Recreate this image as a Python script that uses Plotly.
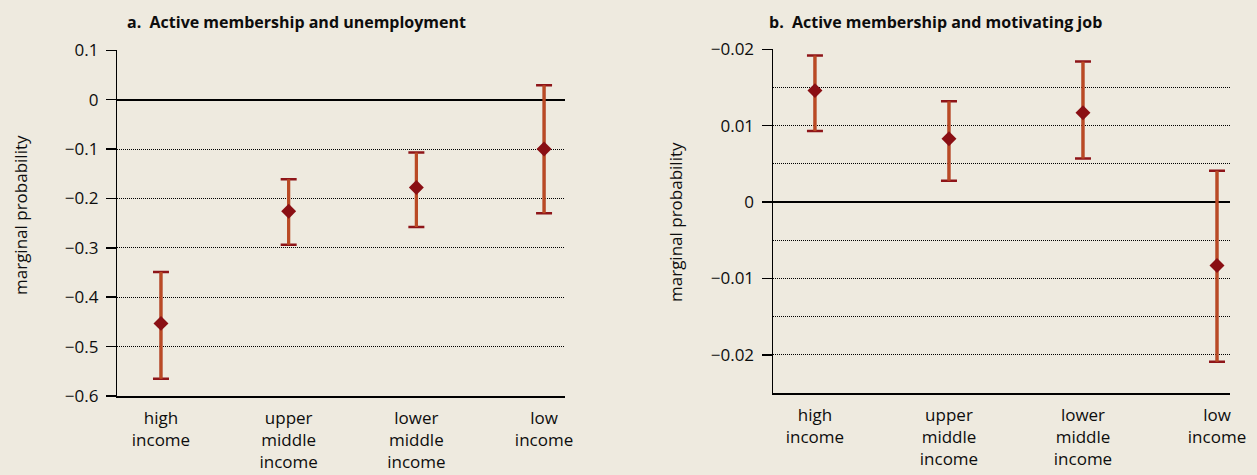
import plotly.graph_objects as go

# ---- data ----
categories = ["high income", "upper middle income", "lower middle income", "low income"]
tick_labels = ["high<br>income", "upper<br>middle<br>income", "lower<br>middle<br>income", "low<br>income"]

unemp_est = [-0.453, -0.226, -0.178, -0.100]
unemp_lo = [-0.565, -0.294, -0.258, -0.230]
unemp_hi = [-0.349, -0.161, -0.107, 0.029]

job_est = [0.0146, 0.0083, 0.0117, -0.0083]
job_lo = [0.0093, 0.0028, 0.0057, -0.0209]
job_hi = [0.0192, 0.0132, 0.0184, 0.0041]

a_tickvals = [0.1, 0, -0.1, -0.2, -0.3, -0.4, -0.5, -0.6]
a_ticktext = ["0.1", "0", "\u22120.1", "\u22120.2", "\u22120.3", "\u22120.4", "\u22120.5", "\u22120.6"]
b_tickvals = [0.02, 0.01, 0, -0.01, -0.02]
b_ticktext = ["\u22120.02", "0.01", "0", "\u22120.01", "\u22120.02"]
b_minor_grid = [0.015, 0.005, -0.005, -0.015]

titles = ["a.  Active membership and unemployment", "b.  Active membership and motivating job"]
ytitle = "marginal probability"

# ---- style ----
BG = "#EEEADF"
STEM = "#BA4A24"
CAP = "#8E1519"
DOT = "#8A0F14"
FONT = "Open Sans"
TXT = "#0d0d0d"
GRID = "#000000"
W, H = 1257, 475

fig = go.Figure()


def add_panel(est, lo, hi, xa, ya):
    plus = [h - e for h, e in zip(hi, est)]
    minus = [e - l for e, l in zip(est, lo)]
    # caps (dark red)
    fig.add_trace(go.Scatter(
        x=categories, y=est, mode="markers", marker=dict(size=1, opacity=0),
        error_y=dict(type="data", symmetric=False, array=plus, arrayminus=minus,
                     color=CAP, thickness=2.5, width=8),
        xaxis=xa, yaxis=ya, showlegend=False, hoverinfo="skip"))
    # stems (orange-brown)
    fig.add_trace(go.Scatter(
        x=categories, y=est, mode="markers", marker=dict(size=1, opacity=0),
        error_y=dict(type="data", symmetric=False, array=plus, arrayminus=minus,
                     color=STEM, thickness=3.2, width=0),
        xaxis=xa, yaxis=ya, showlegend=False, hoverinfo="skip"))
    # diamonds
    fig.add_trace(go.Scatter(
        x=categories, y=est, mode="markers",
        marker=dict(symbol="diamond", size=11.5, color=DOT, line=dict(width=0)),
        xaxis=xa, yaxis=ya, showlegend=False, hoverinfo="skip"))


add_panel(unemp_est, unemp_lo, unemp_hi, "x", "y")
add_panel(job_est, job_lo, job_hi, "x2", "y2")

tickfont = dict(family=FONT, size=17, color=TXT)
grid = dict(showgrid=True, gridcolor=GRID, gridwidth=1, griddash="1px,1px")

xcommon = dict(type="category", categoryorder="array", categoryarray=categories,
               tickvals=categories, ticktext=tick_labels, tickfont=tickfont,
               showgrid=False, showline=True, linecolor="black", linewidth=1.5,
               ticks="", ticklabelstandoff=6, zeroline=False, automargin=False,
               fixedrange=True)
ycommon = dict(tickmode="array", tickfont=tickfont, showline=True, linecolor="black",
               linewidth=1.5, ticks="outside", ticklen=10, tickwidth=1.5,
               tickcolor="black", ticklabelstandoff=4, zeroline=True,
               zerolinecolor="black", zerolinewidth=2, automargin=False,
               fixedrange=True, **grid)

fig.update_layout(
    width=W, height=H,
    margin=dict(l=0, r=0, t=0, b=0),
    paper_bgcolor=BG, plot_bgcolor=BG,
    showlegend=False, hovermode=False,
    xaxis=dict(domain=[117.3 / W, 565 / W], range=[-0.342, 3.164], anchor="y", **xcommon),
    yaxis=dict(domain=[1 - 396 / H, 1 - 50 / H], range=[-0.6, 0.1005], anchor="x",
               tickvals=a_tickvals, ticktext=a_ticktext, **ycommon),
    xaxis2=dict(domain=[773 / W, 1230 / W], range=[-0.313, 3.097], anchor="y2", **xcommon),
    yaxis2=dict(domain=[1 - 393 / H, 1 - 49 / H], range=[-0.025, 0.02005], anchor="x2",
                tickvals=b_tickvals, ticktext=b_ticktext,
                minor=dict(tickmode="array", tickvals=b_minor_grid, ticks="",
                           showgrid=True, gridcolor=GRID, gridwidth=1,
                           griddash="1px,1px"),
                **ycommon),
)

ann_font_title = dict(family=FONT, size=16, color=TXT)
fig.add_annotation(text="<b>" + titles[0] + "</b>", xref="paper", yref="paper",
                   x=296 / W, y=1 - 21.5 / H, xanchor="center", yanchor="middle",
                   showarrow=False, font=ann_font_title)
fig.add_annotation(text="<b>" + titles[1] + "</b>", xref="paper", yref="paper",
                   x=935 / W, y=1 - 21.5 / H, xanchor="center", yanchor="middle",
                   showarrow=False, font=ann_font_title)
fig.add_annotation(text=ytitle, xref="paper", yref="paper", x=20 / W, y=1 - 215 / H,
                   xanchor="center", yanchor="middle", textangle=-90, showarrow=False,
                   font=dict(family=FONT, size=17, color=TXT))
fig.add_annotation(text=ytitle, xref="paper", yref="paper", x=675 / W, y=1 - 222 / H,
                   xanchor="center", yanchor="middle", textangle=-90, showarrow=False,
                   font=dict(family=FONT, size=17, color=TXT))

fig.write_html("out.html", config={"displayModeBar": False, "staticPlot": True},
               post_script="document.body.style.margin='0';document.body.style.background='" + BG + "';")
